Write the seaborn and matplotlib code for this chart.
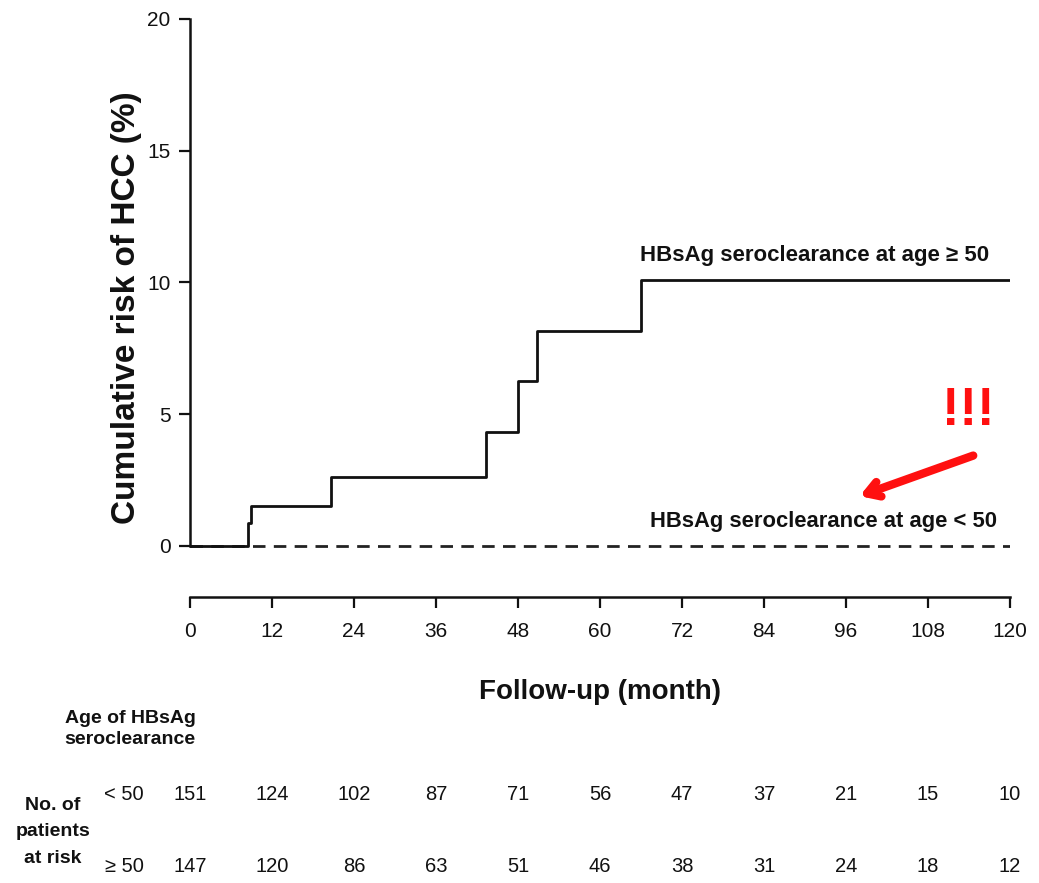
import numpy as np
import pandas as pd
import matplotlib
matplotlib.use("Agg")
import matplotlib.pyplot as plt
import matplotlib.transforms as mtransforms
import seaborn as sns

# Step data (cumulative risk of HCC, %)
months_ge50 = [0, 8.5, 8.9, 20.6, 43.3, 48.0, 50.8, 66.0, 120]
risk_ge50 = [0, 0.85, 1.52, 2.62, 4.33, 6.24, 8.14, 10.08, 10.08]
months_lt50 = [0, 120]
risk_lt50 = [0, 0]

# Numbers at risk table
table_months = [0, 12, 24, 36, 48, 60, 72, 84, 96, 108, 120]
at_risk_lt50 = [151, 124, 102, 87, 71, 56, 47, 37, 21, 15, 10]
at_risk_ge50 = [147, 120, 86, 63, 51, 46, 38, 31, 24, 18, 12]

sns.set_style("ticks")
plt.rcParams['font.family'] = ['Liberation Sans', 'DejaVu Sans']
plt.rcParams['text.color'] = '#111111'
plt.rcParams['axes.labelcolor'] = '#111111'

fig = plt.figure(figsize=(10.39, 8.83), dpi=100)
ax = fig.add_axes([0.1829, 0.324, 0.7892, 0.6546])

df_ge = pd.DataFrame({"month": months_ge50, "risk": risk_ge50})
df_lt = pd.DataFrame({"month": months_lt50, "risk": risk_lt50})
sns.lineplot(data=df_lt, x="month", y="risk", ax=ax, color="#222222",
             linestyle=(0, (4.5, 3)), linewidth=2, estimator=None, sort=False)
sns.lineplot(data=df_ge, x="month", y="risk", ax=ax, color="#111111",
             drawstyle="steps-post", linewidth=2, estimator=None, sort=False)

ax.set_xlim(0, 120)
ax.set_ylim(-1.94, 20)
ax.spines['left'].set_bounds(0, 20)
ax.spines['bottom'].set_bounds(0, 120)
ax.spines['right'].set_visible(False)
ax.spines['top'].set_visible(False)
for s in ['left', 'bottom']:
    ax.spines[s].set_linewidth(1.8)
    ax.spines[s].set_color('#111111')
ax.set_xticks(table_months)
ax.set_yticks([0, 5, 10, 15, 20])
ax.tick_params(axis='both', length=8, width=1.6, labelsize=15, colors='#111111')
ax.tick_params(axis='x', pad=10)
ax.tick_params(axis='y', pad=6)

ax.set_xlabel("Follow-up (month)", fontsize=20, fontweight='bold')
ax.xaxis.set_label_coords(0.5, -0.142)
ax.set_ylabel("Cumulative risk of HCC (%)", fontsize=24, fontweight='bold')
ax.yaxis.set_label_coords(-0.058, 0.5)

ax.text(65.9, 10.8, "HBsAg seroclearance at age \u2265 50", fontsize=16, fontweight='bold',
        ha='left', va='baseline')
ax.text(67.3, 0.72, "HBsAg seroclearance at age < 50", fontsize=15.8, fontweight='bold',
        ha='left', va='baseline')

ax.annotate("", xy=(97.6, 1.85), xytext=(115.0, 3.46),
            arrowprops=dict(arrowstyle="->,head_length=0.9,head_width=0.55",
                            color="#ff1010", lw=6, capstyle='round', joinstyle='round'))
ax.text(113.9, 5.1, "!!!", color="#ff1010", fontsize=38, fontweight='bold',
        ha='center', va='center')

# numbers at risk table
tr = mtransforms.blended_transform_factory(ax.transData, fig.transFigure)
for m, a, b in zip(table_months, at_risk_lt50, at_risk_ge50):
    ax.text(m, 1 - 795 / 883, str(a), transform=tr, fontsize=14.5, ha='center', va='center', clip_on=False)
    ax.text(m, 1 - 867 / 883, str(b), transform=tr, fontsize=14.5, ha='center', va='center', clip_on=False)

fig.text(124 / 1039, 1 - 795 / 883, "< 50", fontsize=14.5, ha='center', va='center')
fig.text(124 / 1039, 1 - 867 / 883, "\u2265 50", fontsize=14.5, ha='center', va='center')
fig.text(130 / 1039, 1 - 729 / 883, "Age of HBsAg\nseroclearance", fontsize=14, fontweight='bold',
         ha='center', va='center', linespacing=1.3)
fig.text(53 / 1039, 1 - 832 / 883, "No. of\npatients\nat risk", fontsize=14, fontweight='bold',
         ha='center', va='center', linespacing=1.75)

fig.savefig("out.png", dpi=100, facecolor='white')
